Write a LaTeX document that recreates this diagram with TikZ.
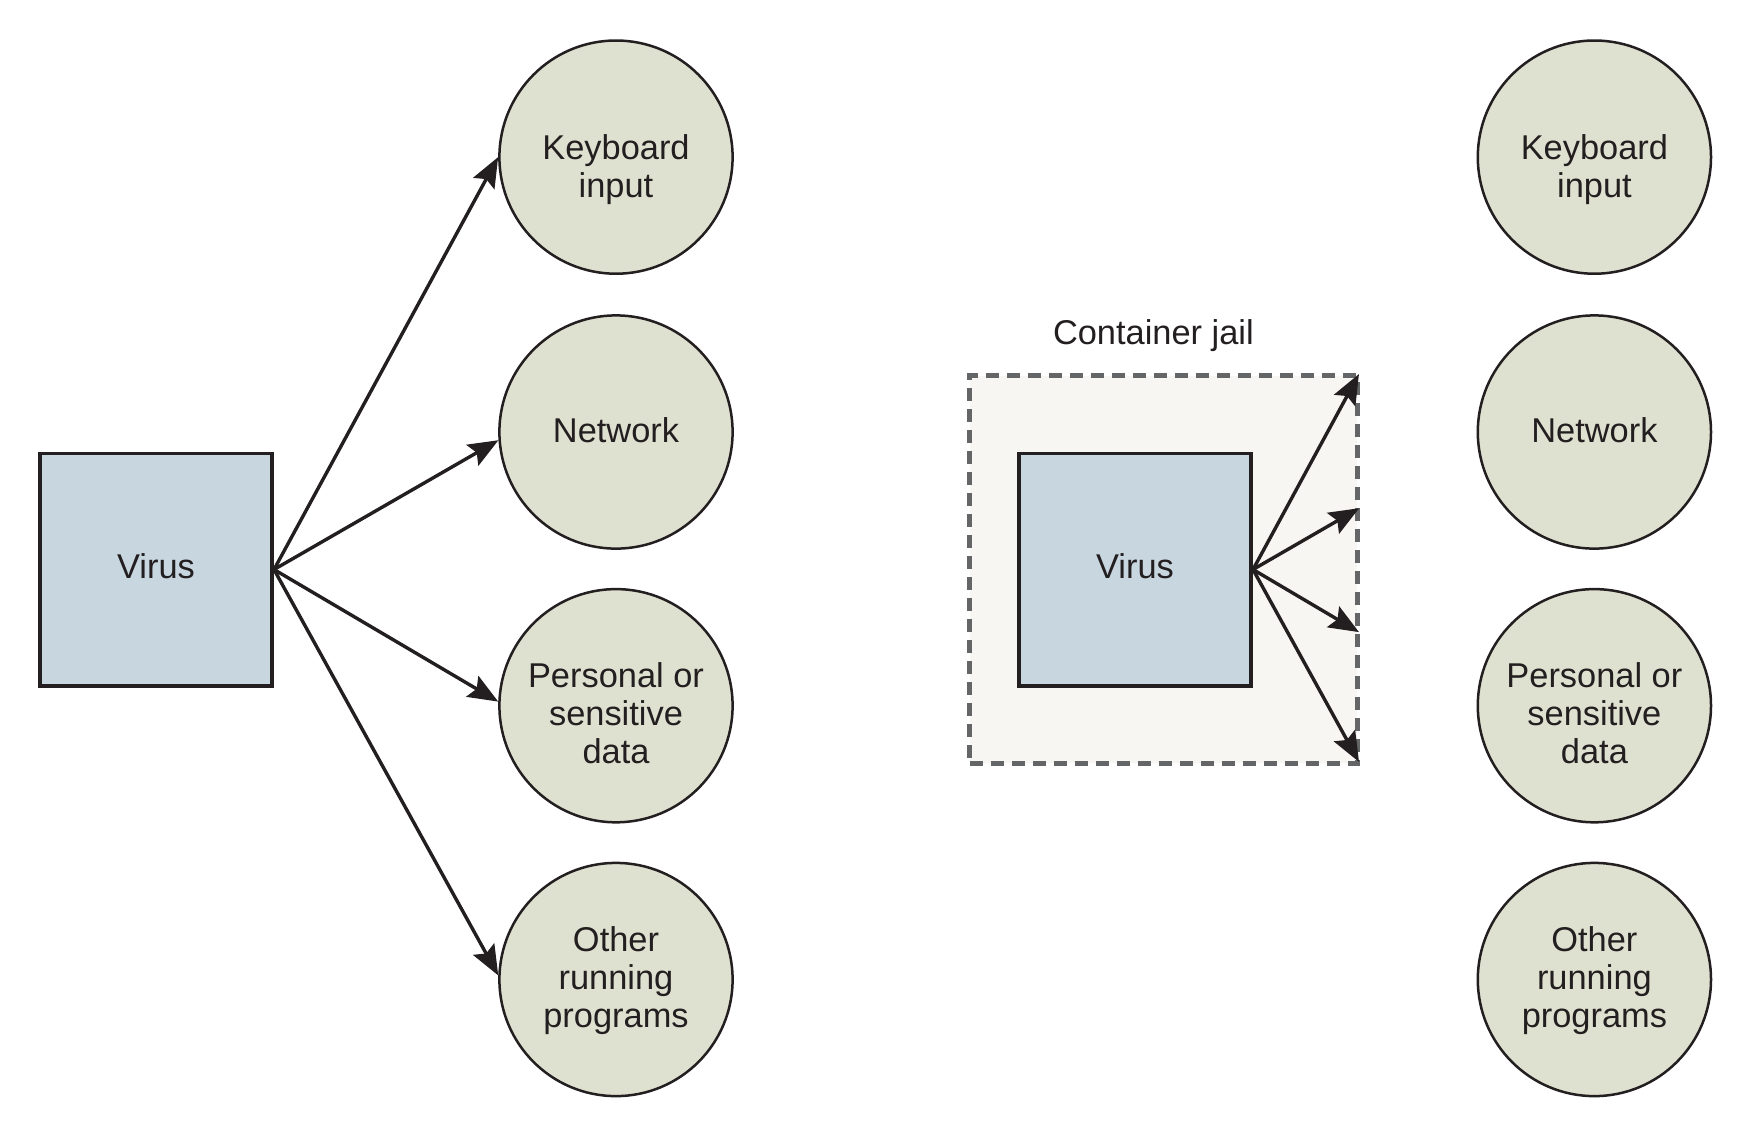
\documentclass[tikz,border=0pt]{standalone}
\usepackage{fontspec}
\setmainfont{Liberation Sans}
\usetikzlibrary{arrows.meta,calc}
\definecolor{circfill}{HTML}{DFE1D0}
\definecolor{boxfill}{HTML}{C8D6E0}
\definecolor{jailfill}{HTML}{F7F6F2}
\definecolor{jaildraw}{HTML}{636566}
\definecolor{ink}{HTML}{231F20}
\begin{document}
\begin{tikzpicture}[x=0.5pt,y=-0.5pt,
  lbl/.style={font=\fontsize{17.2}{19}\selectfont,text=ink},
  res/.style={circle,draw=ink,line width=1.25pt,fill=circfill,minimum size=116.6pt,inner sep=0pt},
  restext/.style={lbl,align=center},
  virus/.style={rectangle,draw=ink,line width=1.9pt,fill=boxfill,minimum size=116.1pt,inner sep=0pt},
  jailbox/.style={rectangle,draw=jaildraw,line width=2.6pt,dash pattern=on 6.5pt off 4pt,fill=jailfill,minimum width=193.9pt,minimum height=193.9pt,inner sep=0pt},
  arr/.style={draw=ink,line width=1.7pt,-{Stealth[length=15pt,width=12pt,inset=2.5pt]}}]
\useasboundingbox (0,0) rectangle (1757,1132);

% left side
\node[virus] (v1) at (156,569.5) {};
\node[lbl] (v1t) at ($(v1)+(0,-3.4)$) {Virus};
\node[res] (k1) at (616,157.1) {};
\node[restext] (k1t) at ($(k1)+(0,12.3)$) {Keyboard\\input};
\node[res] (n1) at (616,432.0) {};
\node[restext] (n1t) at ($(n1)+(0,-2.2)$) {Network};
\node[res] (p1) at (616,705.7) {};
\node[restext] (p1t) at ($(p1)+(0,7.9)$) {Personal or\\sensitive\\data};
\node[res] (o1) at (616,979.5) {};
\node[restext] (o1t) at ($(o1)+(0,1.1)$) {Other\\running\\programs};

\draw[arr] (v1.east) -- (k1.180.6);
\draw[arr] (v1.east) -- (n1.184.2);
\draw[arr] (v1.east) -- (p1.178.5);
\draw[arr] (v1.east) -- (o1.178.3);

% right side
\node[jailbox] (jail) at (1163.5,569.4) {};
\node[lbl,anchor=base] (jl) at (1153.4,344) {Container jail};
\node[virus] (v2) at (1135,569.5) {};
\node[lbl] (v2t) at ($(v2)+(0,-3.4)$) {Virus};
\node[res] (k2) at (1594.4,157.1) {};
\node[restext] (k2t) at ($(k2)+(0,12.3)$) {Keyboard\\input};
\node[res] (n2) at (1594.4,432.0) {};
\node[restext] (n2t) at ($(n2)+(0,-2.2)$) {Network};
\node[res] (p2) at (1594.4,705.7) {};
\node[restext] (p2t) at ($(p2)+(0,7.9)$) {Personal or\\sensitive\\data};
\node[res] (o2) at (1594.4,979.5) {};
\node[restext] (o2t) at ($(o2)+(0,1.1)$) {Other\\running\\programs};

\draw[arr] (v2.east) -- ($(v2.east)!0.474!(k2.180.6)$);
\draw[arr] (v2.east) -- ($(v2.east)!0.474!(n2.184.2)$);
\draw[arr] (v2.east) -- ($(v2.east)!0.474!(p2.178.5)$);
\draw[arr] (v2.east) -- ($(v2.east)!0.474!(o2.178.3)$);
\end{tikzpicture}
\end{document}
